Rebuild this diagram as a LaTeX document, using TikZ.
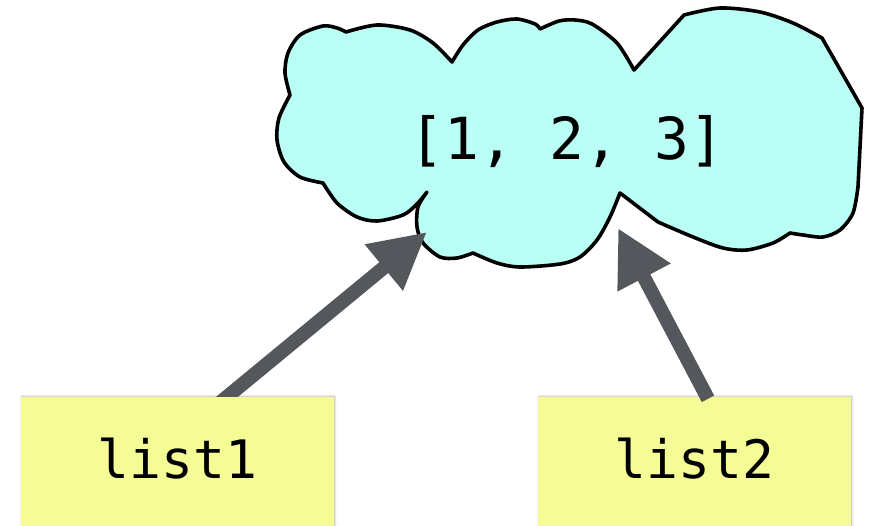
\documentclass[tikz,border=0pt]{standalone}
\usepackage{fontspec}
\newfontfamily\codefont{DejaVu Sans Mono}
\usetikzlibrary{arrows.meta,calc,shadows.blur}
\definecolor{cloudfill}{HTML}{B9FFF5}
\definecolor{notefill}{HTML}{F5FC96}
\definecolor{arrowgray}{HTML}{54575C}
\begin{document}
\begin{tikzpicture}[x=1pt,y=-1pt,
  notebox/.style={rectangle, fill=notefill, minimum width=313pt, minimum height=133pt,
    inner sep=0pt, text height=40pt, text depth=10pt,
    font=\codefont\fontsize{53}{60}\selectfont,
    blur shadow={shadow xshift=0.8pt, shadow yshift=0.6pt, shadow blur radius=2pt, shadow opacity=30}},
  pointer/.style={draw=arrowgray, line width=14pt, -{Triangle[length=56pt,width=56pt]}},
  cloudshape/.style={fill=cloudfill, draw=black, line width=3.6pt, line join=round},
  cloudtext/.style={font=\codefont\fontsize{58}{64}\selectfont, inner sep=0pt, anchor=base}]

\useasboundingbox (0,0) rectangle (871,526);

% the cloud holding the list value, one smooth lobe after another
\filldraw[cloudshape]
  plot[smooth] coordinates {(290,95) (285,73) (288,53) (300,35) (323,26) (337,28) (346,32)}
  -- plot[smooth] coordinates {(346,32) (377,25) (410,30) (433,43) (452,62)}
  -- plot[smooth] coordinates {(452,62) (463,45) (478,30) (497,22) (517,19) (535,24) (540,29)}
  -- plot[smooth] coordinates {(540,29) (559,21) (575,20) (592,24) (617,43) (634,70)}
  -- (684,15)
  -- plot[smooth] coordinates {(684,15) (720,8) (760,12) (793,23) (822,38)}
  -- (862,108) -- (858,187)
  -- plot[smooth] coordinates {(858,187) (853,213) (840,230) (823,237) (803,235) (790,233)}
  -- plot[smooth] coordinates {(790,233) (773,243) (747,250) (723,248) (693,237) (658,222)}
  -- (620,193)
  -- plot[smooth] coordinates {(620,193) (610,217) (597,240) (580,257) (560,264) (520,267) (497,263) (473,253)}
  -- plot[smooth] coordinates {(473,253) (457,258) (440,257) (423,243) (417,227) (418,207) (427,192)}
  -- plot[smooth] coordinates {(427,192) (417,204) (403,215) (377,221) (357,217) (337,203) (323,183)}
  -- plot[smooth] coordinates {(323,183) (300,177) (284,162) (277,140) (279,118) (290,95)}
  -- cycle;
\node[cloudtext] (cloud) at (567,160) {[1, 2, 3]};
\coordinate (c1) at (427,232);
\coordinate (c2) at (618,228);

% the two names
\begin{scope}
  \clip (0,0) rectangle (871,526);
  \node[notebox] (list1) at (177.5,463.5) {list1};
  \node[notebox] (list2) at (694.5,463.5) {list2};
\end{scope}

% references from the names to the value
\begin{scope}
  \clip (0,0) rectangle ($(list1.north)+(700,0)$);
  \draw[pointer] ($(list1.north)+(41.8,6.4)$) -- (c1);
\end{scope}
\draw[pointer] ($(list2.north)+(13.5,2)$) -- (c2);
\end{tikzpicture}
\end{document}
